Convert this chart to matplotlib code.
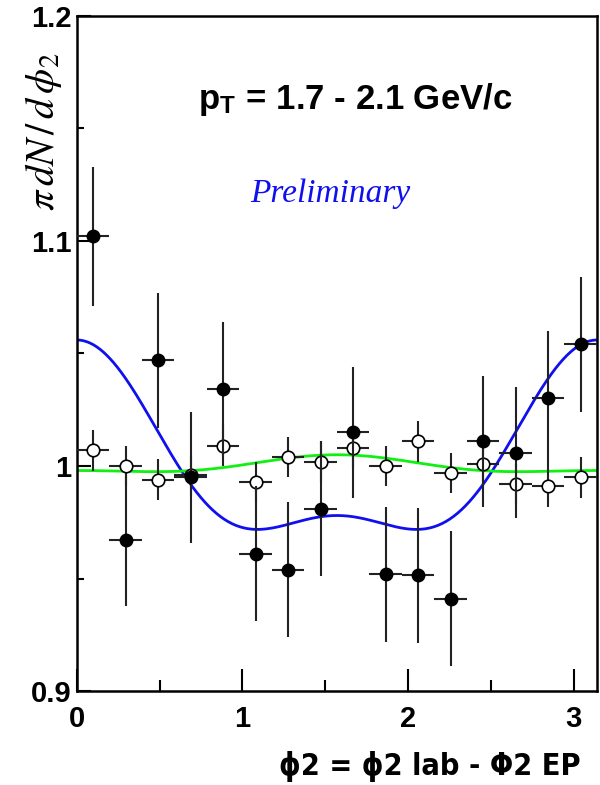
import numpy as np
import matplotlib
matplotlib.use("Agg")
import matplotlib.pyplot as plt
from matplotlib.ticker import MultipleLocator

plt.rcParams['font.family'] = ['Liberation Sans', 'DejaVu Sans']
plt.rcParams['mathtext.fontset'] = 'stix'

# bin centres, 16 bins over 0..pi
nbins = 16
phi = (np.arange(nbins) + 0.5) * np.pi / nbins
xerr = np.pi / nbins / 2

# filled points
y_full = [1.102, 0.967, 1.047, 0.995, 1.034, 0.961, 0.954, 0.981,
          1.015, 0.952, 0.9515, 0.941, 1.011, 1.006, 1.030, 1.054]
e_full = [0.031, 0.029, 0.030, 0.029, 0.030, 0.030, 0.030, 0.030,
          0.029, 0.030, 0.030, 0.030, 0.029, 0.029, 0.030, 0.030]

# open points
y_open = [1.007, 1.000, 0.994, 0.996, 1.009, 0.993, 1.004, 1.002,
          1.008, 1.000, 1.011, 0.997, 1.001, 0.992, 0.991, 0.995]
e_open = [0.009] * nbins

# fit coefficients: 1 + a cos(2x) + b cos(4x)
blue_a, blue_b = 0.039, 0.017
green_a, green_b = -0.0035, 0.0015

fig = plt.figure(figsize=(6, 7.85), dpi=100)
ax = fig.add_axes([0.128, 0.1197, 0.867, 0.86])

xs = np.linspace(0, np.pi, 400)
ax.plot(xs, 1 + blue_a*np.cos(2*xs) + blue_b*np.cos(4*xs), color='#1010ee', lw=2, zorder=2)
ax.plot(xs, 1 + green_a*np.cos(2*xs) + green_b*np.cos(4*xs), color='#11f011', lw=2, zorder=2)

ax.errorbar(phi, y_open, yerr=e_open, xerr=xerr, fmt='o', ms=9, mfc='white',
            mec='black', mew=1.2, ecolor='#222222', elinewidth=1.5, capsize=0, zorder=3)
ax.errorbar(phi, y_full, yerr=e_full, xerr=xerr, fmt='o', ms=9, mfc='black',
            mec='black', ecolor='#222222', elinewidth=1.5, capsize=0, zorder=4)

ax.set_xlim(0, np.pi)
ax.set_ylim(0.9, 1.2)
ax.xaxis.set_major_locator(MultipleLocator(1))
ax.xaxis.set_minor_locator(MultipleLocator(0.5))
ax.yaxis.set_minor_locator(MultipleLocator(0.05))
ax.set_yticks([0.9, 1.0, 1.1, 1.2])
ax.set_yticklabels(['0.9', '1', '1.1', '1.2'])
ax.tick_params(which='both', direction='in', width=1.5, top=False, right=False)
ax.tick_params(axis='x', which='major', length=16, labelsize=21, pad=10)
ax.tick_params(axis='x', which='minor', length=8)
ax.tick_params(axis='y', which='major', length=10, labelsize=21, pad=4)
ax.tick_params(axis='y', which='minor', length=5)
for lab in ax.get_xticklabels() + ax.get_yticklabels():
    lab.set_fontweight('bold')
for s in ax.spines.values():
    s.set_linewidth(1.8)

ax.text(1.68, 1.163, r'p$_\mathregular{T}$ = 1.7 - 2.1 GeV/c', fontsize=25,
        fontweight='bold', ha='center', va='center')
ax.text(1.53, 1.121, 'Preliminary', fontsize=24, color='#1010ee', style='italic',
        family='Liberation Serif', ha='center', va='center')

fig.text(0.073, 0.832, r'$\pi\, dN\, /\, d\, \phi_2$', fontsize=29, rotation=90,
         ha='center', va='center')
fig.text(0.968, 0.004, 'ϕ2 = ϕ2 lab - Φ2 EP', fontsize=22, fontweight='bold',
         ha='right', va='bottom', family=['DejaVu Sans'], stretch='condensed')

fig.savefig('out.png', dpi=100)
